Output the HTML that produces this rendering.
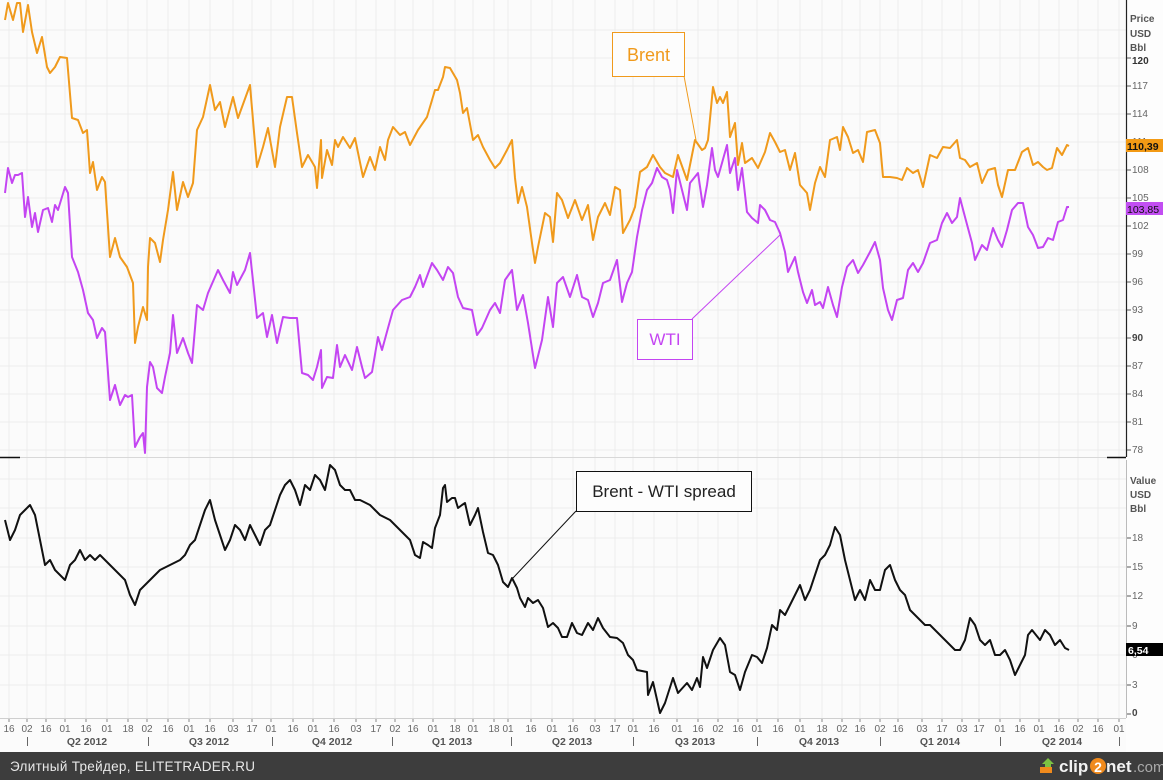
<!DOCTYPE html>
<html><head><meta charset="utf-8">
<style>
html,body{margin:0;padding:0;background:#fbfbfb;}
svg{display:block;}
text{font-family:"Liberation Sans","DejaVu Sans",sans-serif;}
</style></head>
<body>
<svg width="1163" height="780" viewBox="0 0 1163 780" xmlns="http://www.w3.org/2000/svg">
<rect x="0" y="0" width="1163" height="780" fill="#fbfbfb"/>
<rect x="1126" y="0" width="37" height="752" fill="#fdfdfd"/>

<!-- vertical grid -->
<g stroke="#ececec" stroke-width="1">
<path d="M9 0V718M27 0V718M46 0V718M65 0V718M86 0V718M107 0V718M128 0V718M147 0V718M168 0V718M189 0V718M210 0V718M233 0V718M252 0V718M271 0V718M293 0V718M313 0V718M334 0V718M356 0V718M376 0V718M395 0V718M413 0V718M433 0V718M455 0V718M473 0V718M494 0V718M508 0V718M531 0V718M552 0V718M573 0V718M595 0V718M615 0V718M633 0V718M654 0V718M677 0V718M698 0V718M718 0V718M738 0V718M757 0V718M778 0V718M800 0V718M822 0V718M842 0V718M860 0V718M880 0V718M898 0V718M922 0V718M942 0V718M962 0V718M979 0V718M1000 0V718M1020 0V718M1039 0V718M1059 0V718M1078 0V718M1098 0V718M1119 0V718"/>
<!-- horizontal grid top -->
<path d="M0 450H1126M0 422H1126M0 394H1126M0 366H1126M0 338H1126M0 310H1126M0 282H1126M0 254H1126M0 226H1126M0 198H1126M0 170H1126M0 142H1126M0 114H1126M0 86H1126M0 58H1126M0 30H1126"/>
<!-- horizontal grid bottom -->
<path d="M0 685H1126M0 655H1126M0 626H1126M0 596H1126M0 567H1126M0 538H1126M0 508H1126M0 479H1126"/>
</g>

<!-- panel separator -->
<line x1="0" y1="457.5" x2="1126" y2="457.5" stroke="#d8d8d8" stroke-width="1"/>
<line x1="0" y1="457.5" x2="20" y2="457.5" stroke="#111" stroke-width="1.5"/>
<line x1="1107" y1="457.5" x2="1126" y2="457.5" stroke="#111" stroke-width="1.5"/>
<line x1="0" y1="718.5" x2="1126" y2="718.5" stroke="#cfcfcf" stroke-width="1"/>
<!-- right axes -->
<line x1="1126.5" y1="0" x2="1126.5" y2="457" stroke="#222" stroke-width="1.2"/>
<line x1="1126.5" y1="460" x2="1126.5" y2="718" stroke="#bbb" stroke-width="1"/>

<!-- Brent -->
<polyline fill="none" stroke="#f09a1c" stroke-width="2" stroke-linejoin="round" points="5,20 8,3 13,20 17,3 20,3 23,32 28,5 32,32 37,53 42,37 47,67 50,73 55,67 60,57 67,58 72,118 78,120 83,133 87,130 90,173 93,162 97,190 102,177 105,182 110,257 115,238 120,257 127,267 133,283 135,343 138,327 143,307 147,320 148,267 150,238 155,243 160,262 163,240 168,210 173,172 177,210 183,182 188,197 193,183 197,130 203,117 210,85 215,110 220,102 225,127 233,97 238,118 250,85 257,167 263,147 268,128 275,167 280,127 287,97 292,97 297,133 302,167 308,155 315,167 317,188 321,140 322,178 327,150 332,165 335,140 338,147 343,137 350,148 355,138 363,177 370,157 375,170 380,147 385,160 388,140 393,127 400,135 405,132 410,145 418,130 427,117 435,90 438,90 443,77 445,67 450,68 457,80 460,93 463,113 467,108 473,140 478,135 483,147 490,160 495,168 500,163 507,150 512,140 515,178 518,203 522,187 527,207 532,243 535,263 538,247 545,213 550,217 553,242 557,193 562,200 568,218 575,200 582,220 588,205 593,240 598,217 605,203 610,215 615,187 620,190 623,233 630,220 635,207 640,172 647,167 653,155 660,167 665,173 673,177 678,155 687,180 695,140 702,150 705,148 708,140 713,87 717,103 720,97 723,103 727,92 730,137 735,123 738,165 742,143 745,163 752,158 758,168 765,152 770,133 775,142 780,152 785,150 790,170 795,153 800,185 807,193 810,210 815,183 820,167 825,177 830,140 837,137 840,150 843,127 848,137 853,153 858,150 863,162 867,132 875,130 880,143 883,177 890,177 897,178 902,180 907,168 913,173 918,170 923,187 930,155 937,158 943,147 950,148 957,140 960,158 965,160 970,167 977,163 982,183 988,170 995,168 998,185 1002,197 1008,170 1015,170 1022,152 1028,148 1033,165 1038,162 1043,167 1047,170 1052,168 1057,148 1062,155 1067,145 1069,146"/>

<!-- WTI -->
<polyline fill="none" stroke="#c445f2" stroke-width="2" stroke-linejoin="round" points="5,193 8,168 12,183 15,175 18,175 22,173 25,217 28,197 32,227 35,213 38,232 43,210 48,208 52,222 55,205 58,210 65,187 68,193 72,257 78,272 83,290 88,313 93,320 97,338 102,328 105,332 110,400 115,385 120,405 125,395 128,397 132,395 135,447 140,437 143,433 145,453 147,387 150,362 153,367 157,388 162,393 165,377 170,353 173,315 177,353 183,338 188,353 192,363 197,305 203,310 208,293 218,270 223,280 230,293 233,272 237,285 245,270 250,253 257,318 263,313 267,337 272,315 277,343 283,317 290,318 297,318 302,373 308,375 313,380 317,367 321,350 322,388 327,377 333,378 337,345 340,367 345,355 352,370 357,347 362,367 365,378 372,372 378,337 382,350 388,328 393,310 402,300 410,297 415,287 420,275 423,287 432,263 437,270 443,280 448,267 453,273 458,297 463,308 472,310 477,335 482,328 490,310 495,303 500,313 505,280 512,270 517,310 523,295 528,323 535,368 542,340 548,297 553,327 557,283 563,277 570,297 577,275 582,297 588,300 593,317 598,303 603,283 610,280 617,260 622,302 627,283 632,272 637,237 642,210 647,190 652,183 657,168 662,177 667,180 670,190 673,213 677,170 682,190 687,210 690,183 698,173 703,207 707,185 712,148 715,170 718,177 722,163 727,145 730,173 735,158 738,190 742,168 747,212 752,218 758,223 760,205 765,210 770,220 775,222 780,233 785,252 788,272 795,257 798,272 803,292 807,303 812,290 815,305 820,302 823,308 828,287 833,305 837,317 842,287 847,267 853,260 858,273 863,265 870,252 875,242 880,260 883,288 888,310 892,320 897,300 903,298 908,270 913,263 918,272 923,263 930,243 937,240 942,223 947,213 952,223 957,217 960,198 965,217 972,243 975,260 982,245 987,250 993,228 998,240 1002,247 1007,230 1012,210 1018,203 1023,203 1028,227 1033,235 1038,248 1043,247 1048,238 1053,240 1058,222 1063,220 1067,207 1069,207"/>

<!-- Spread -->
<polyline fill="none" stroke="#111" stroke-width="2" stroke-linejoin="round" points="5,520 10,540 15,530 20,515 25,510 30,505 35,515 40,540 45,565 50,560 55,570 60,575 65,580 70,565 75,560 80,550 85,560 90,555 95,560 100,555 105,560 110,565 115,570 120,575 125,580 130,595 135,605 140,590 145,585 150,580 155,575 160,570 170,565 180,560 185,555 190,545 195,540 200,525 205,510 210,500 215,520 220,535 225,550 230,540 235,525 240,530 245,540 250,525 255,535 260,545 265,530 270,525 275,510 280,495 285,485 290,480 295,490 300,505 305,485 310,490 315,475 320,480 325,490 330,465 335,470 340,485 345,490 350,490 355,500 360,500 370,505 375,510 380,515 390,520 400,530 410,540 415,555 420,558 423,542 428,545 432,548 435,528 440,515 443,488 445,485 447,502 452,498 455,498 458,508 462,505 465,503 470,525 475,515 478,508 483,532 488,553 493,555 498,565 503,582 508,587 512,578 517,588 520,598 525,607 528,598 533,603 538,600 543,608 548,627 553,623 558,628 562,637 567,637 572,623 577,633 582,635 588,623 593,630 598,618 603,628 610,637 617,638 623,643 628,655 633,660 637,670 647,672 648,695 653,682 660,713 665,703 673,678 678,693 687,683 692,690 697,678 700,687 703,657 707,668 713,650 720,638 725,645 730,672 735,675 740,690 745,672 752,655 757,657 762,663 767,648 772,625 777,630 780,610 785,615 790,605 795,595 800,585 805,600 810,590 815,575 820,560 825,555 830,545 835,527 840,535 845,560 850,580 855,600 860,590 865,600 870,580 875,590 880,590 885,570 890,565 895,580 900,590 905,595 910,610 915,615 920,620 925,625 930,625 940,635 945,640 950,645 955,650 960,650 965,640 970,618 975,625 980,640 985,645 990,640 995,655 1000,655 1005,650 1010,660 1015,675 1020,665 1025,655 1028,635 1032,630 1036,635 1040,640 1045,630 1050,635 1055,645 1060,640 1065,648 1069,650"/>

<!-- annotation boxes -->
<line x1="684" y1="76" x2="696" y2="140" stroke="#f09a1c" stroke-width="1"/>
<rect x="612.5" y="32.5" width="72" height="44" fill="#fdfdfd" stroke="#f09a1c" stroke-width="1"/>
<text x="648.5" y="61" font-size="18" fill="#f09a1c" text-anchor="middle">Brent</text>

<line x1="692" y1="319" x2="780" y2="235" stroke="#c445f2" stroke-width="1"/>
<rect x="637.5" y="319.5" width="55" height="40" fill="#fdfdfd" stroke="#c445f2" stroke-width="1"/>
<text x="665" y="345" font-size="17" fill="#c445f2" text-anchor="middle">WTI</text>

<line x1="576" y1="511" x2="513" y2="578" stroke="#111" stroke-width="1"/>
<rect x="576.5" y="471.5" width="175" height="40" fill="#fdfdfd" stroke="#111" stroke-width="1"/>
<text x="664" y="497" font-size="17" fill="#222" text-anchor="middle">Brent - WTI spread</text>

<!-- right axis top -->
<g font-size="10" fill="#555" font-weight="bold">
<text x="1130" y="22">Price</text>
<text x="1130" y="37">USD</text>
<text x="1130" y="51">Bbl</text>
<text x="1130" y="484">Value</text>
<text x="1130" y="498">USD</text>
<text x="1130" y="512">Bbl</text>
</g>
<g stroke="#555" stroke-width="1">
<path d="M1127 58H1131M1127 86H1131M1127 114H1131M1127 142H1131M1127 170H1131M1127 198H1131M1127 226H1131M1127 254H1131M1127 282H1131M1127 310H1131M1127 338H1131M1127 366H1131M1127 394H1131M1127 422H1131M1127 450H1131"/>
<path d="M1127 538H1131M1127 567H1131M1127 596H1131M1127 626H1131M1127 655H1131M1127 685H1131M1127 714H1131"/>
</g>
<g font-size="10" fill="#666">
<text x="1132" y="64" font-weight="bold" fill="#333">120</text>
<text x="1132" y="89">117</text>
<text x="1132" y="117">114</text>
<text x="1132" y="145">111</text>
<text x="1132" y="173">108</text>
<text x="1132" y="201">105</text>
<text x="1132" y="229">102</text>
<text x="1132" y="257">99</text>
<text x="1132" y="285">96</text>
<text x="1132" y="313">93</text>
<text x="1132" y="341" font-weight="bold" fill="#444">90</text>
<text x="1132" y="369">87</text>
<text x="1132" y="397">84</text>
<text x="1132" y="425">81</text>
<text x="1132" y="453">78</text>
<text x="1132" y="541">18</text>
<text x="1132" y="570">15</text>
<text x="1132" y="599">12</text>
<text x="1132" y="629">9</text>
<text x="1132" y="658">6</text>
<text x="1132" y="688">3</text>
<text x="1132" y="716" font-weight="bold" fill="#444">0</text>
</g>
<!-- value tags -->
<rect x="1126" y="139" width="37" height="13" fill="#f39a14"/>
<text x="1127" y="150" font-size="10.5" font-weight="bold" fill="#111">110,39</text>
<rect x="1126" y="202" width="37" height="13" fill="#c24ef2"/>
<text x="1127" y="213" font-size="10.5" fill="#111">103,85</text>
<rect x="1126" y="643" width="37" height="13" fill="#000"/>
<text x="1128" y="654" font-size="10.5" font-weight="bold" fill="#fff">6,54</text>

<!-- x ticks -->
<g stroke="#888" stroke-width="1">
<path d="M9 719V722M27 719V722M46 719V722M65 719V722M86 719V722M107 719V722M128 719V722M147 719V722M168 719V722M189 719V722M210 719V722M233 719V722M252 719V722M271 719V722M293 719V722M313 719V722M334 719V722M356 719V722M376 719V722M395 719V722M413 719V722M433 719V722M455 719V722M473 719V722M494 719V722M508 719V722M531 719V722M552 719V722M573 719V722M595 719V722M615 719V722M633 719V722M654 719V722M677 719V722M698 719V722M718 719V722M738 719V722M757 719V722M778 719V722M800 719V722M822 719V722M842 719V722M860 719V722M880 719V722M898 719V722M922 719V722M942 719V722M962 719V722M979 719V722M1000 719V722M1020 719V722M1039 719V722M1059 719V722M1078 719V722M1098 719V722M1119 719V722"/>
</g>
<g font-size="10" fill="#666" text-anchor="middle">
<text x="9" y="732">16</text><text x="27" y="732">02</text><text x="46" y="732">16</text><text x="65" y="732">01</text><text x="86" y="732">16</text><text x="107" y="732">01</text><text x="128" y="732">18</text><text x="147" y="732">02</text><text x="168" y="732">16</text><text x="189" y="732">01</text><text x="210" y="732">16</text><text x="233" y="732">03</text><text x="252" y="732">17</text><text x="271" y="732">01</text><text x="293" y="732">16</text><text x="313" y="732">01</text><text x="334" y="732">16</text><text x="356" y="732">03</text><text x="376" y="732">17</text><text x="395" y="732">02</text>
<text x="413" y="732">16</text><text x="433" y="732">01</text><text x="455" y="732">18</text><text x="473" y="732">01</text><text x="494" y="732">18</text><text x="508" y="732">01</text><text x="531" y="732">16</text><text x="552" y="732">01</text><text x="573" y="732">16</text><text x="595" y="732">03</text><text x="615" y="732">17</text><text x="633" y="732">01</text><text x="654" y="732">16</text><text x="677" y="732">01</text><text x="698" y="732">16</text><text x="718" y="732">02</text><text x="738" y="732">16</text><text x="757" y="732">01</text><text x="778" y="732">16</text><text x="800" y="732">01</text>
<text x="822" y="732">18</text><text x="842" y="732">02</text><text x="860" y="732">16</text><text x="880" y="732">02</text><text x="898" y="732">16</text><text x="922" y="732">03</text><text x="942" y="732">17</text><text x="962" y="732">03</text><text x="979" y="732">17</text><text x="1000" y="732">01</text><text x="1020" y="732">16</text><text x="1039" y="732">01</text><text x="1059" y="732">16</text><text x="1078" y="732">02</text><text x="1098" y="732">16</text><text x="1119" y="732">01</text>
</g>
<g stroke="#666" stroke-width="1">
<path d="M27.5 737V746M148.5 737V746M272.5 737V746M392.5 737V746M511.5 737V746M633.5 737V746M757.5 737V746M880.5 737V746M1000.5 737V746M1119.5 737V746"/>
</g>
<g font-size="10.5" fill="#555" font-weight="bold" text-anchor="middle">
<text x="87" y="745">Q2 2012</text>
<text x="209" y="745">Q3 2012</text>
<text x="332" y="745">Q4 2012</text>
<text x="452" y="745">Q1 2013</text>
<text x="572" y="745">Q2 2013</text>
<text x="695" y="745">Q3 2013</text>
<text x="819" y="745">Q4 2013</text>
<text x="940" y="745">Q1 2014</text>
<text x="1062" y="745">Q2 2014</text>
</g>

<!-- footer -->
<rect x="0" y="752" width="1163" height="28" fill="#3d3d3d"/>
<text x="10" y="771" font-size="13.5" fill="#e8e8e8" letter-spacing="0.3">Элитный Трейдер, ELITETRADER.RU</text>
<g>
<polygon points="1048,758 1054,764 1051,764 1051,770 1045,770 1045,764 1042,764" fill="#7dc242"/>
<rect x="1040" y="767" width="12" height="6" fill="#f08a1c"/>
<text x="1059" y="772" font-size="17" font-weight="bold" fill="#f2f2f2">clip</text>
<circle cx="1098" cy="766" r="8" fill="#f08a1c"/>
<text x="1098" y="772" font-size="14" font-weight="bold" fill="#fff" text-anchor="middle">2</text>
<text x="1106" y="772" font-size="17" font-weight="bold" fill="#f2f2f2">net</text>
<text x="1133" y="772" font-size="15" fill="#aaa">.com</text>
</g>
</svg>
</body></html>
